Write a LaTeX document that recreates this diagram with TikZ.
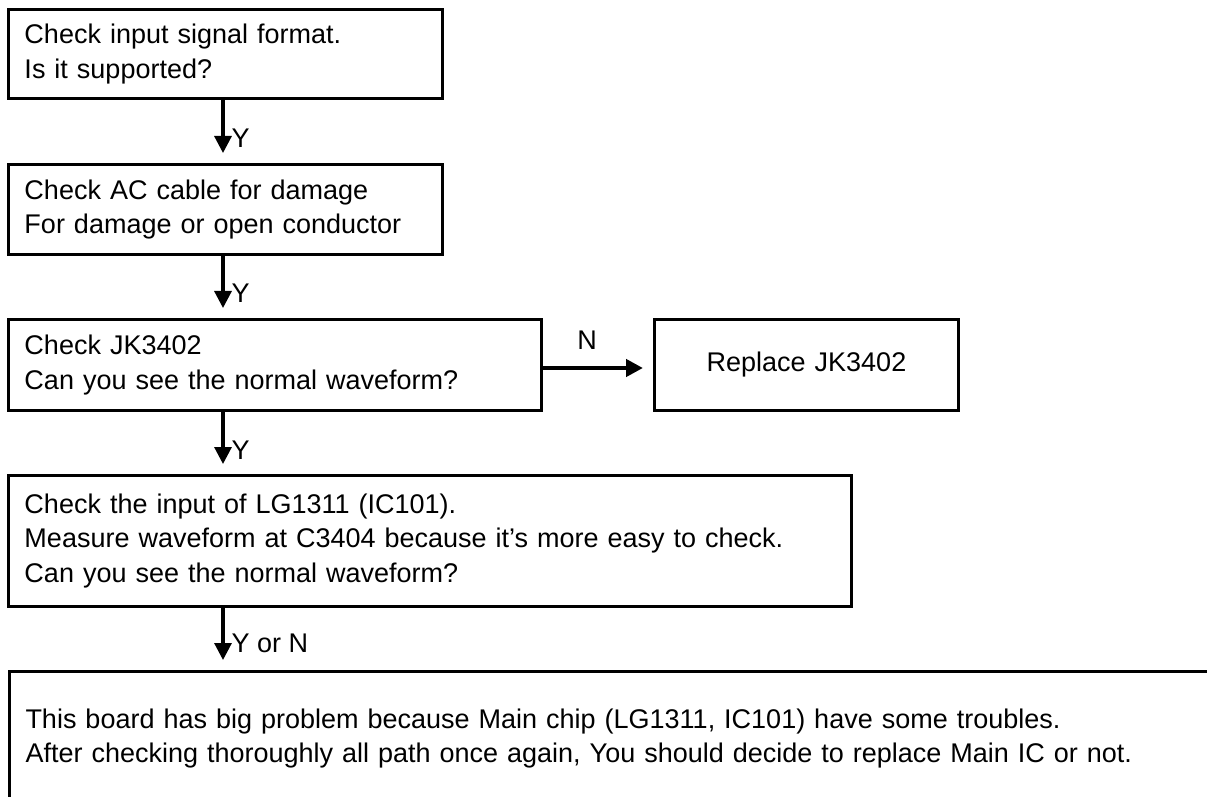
\documentclass[tikz,border=0pt]{standalone}
\usepackage{fontspec}
\setmainfont{Liberation Sans}
\usetikzlibrary{arrows.meta}

\begin{document}
\begin{tikzpicture}[x=0.5pt,y=-0.5pt,
    box/.style={draw,line width=1.5pt,anchor=north west,align=left,
        inner xsep=8pt,inner ysep=0pt,font=\fontsize{13.5}{17.25}\selectfont},
    flow/.style={-{Triangle[length=8.5pt,width=8.5pt]},line width=1.6pt,shorten >=5pt},
    lbl/.style={font=\fontsize{13.5}{16}\selectfont,inner sep=1pt}
]
\useasboundingbox (0,0) rectangle (1207,797);
\clip (0,0) rectangle (1207,797);
\coordinate (spine) at (223,0);
\node[box,text width=201pt,minimum height=44.5pt] (fmt) at (7,8)
    {Check input signal format.\\Is it supported?};
\node[box,text width=201pt,minimum height=45pt] (cable) at (7,163)
    {Check AC cable for damage\\For damage or open conductor};
\node[box,text width=250.5pt,minimum height=45.5pt] (jk) at (7,318)
    {Check JK3402\\Can you see the normal waveform?};
\node[box,align=center,text width=136pt,minimum height=45.5pt] (repl) at (653,318)
    {Replace JK3402};
\node[box,text width=405.5pt,minimum height=65.5pt] (lgin) at (7,474)
    {Check the input of LG1311 (IC101).\\
     Measure waveform at C3404 because it’s more easy to check.\\
     Can you see the normal waveform?};
\node[box,text width=609pt,minimum height=67pt] (mainic) at (8,670)
    {This board has big problem because Main chip (LG1311, IC101) have some troubles.\\
     After checking thoroughly all path once again, You should decide to replace Main IC or not.};
\draw[flow] (fmt.south -| spine) -- (cable.north -| spine)
    node[lbl,right,pos=0.6,xshift=2.5pt] {Y};
\draw[flow] (cable.south -| spine) -- (jk.north -| spine)
    node[lbl,right,pos=0.6,xshift=2.5pt] {Y};
\draw[flow] (jk.south -| spine) -- (lgin.north -| spine)
    node[lbl,right,pos=0.62,xshift=2.5pt] {Y};
\draw[flow] (lgin.south -| spine) -- (mainic.north -| spine)
    node[lbl,right,pos=0.57,xshift=2.5pt] {Y or N};
\draw[flow,line width=2.2pt] ([yshift=-1.5pt]jk.east) -- ([yshift=-1.5pt]repl.west)
    node[lbl,above,pos=0.4,yshift=7pt] {N};
\end{tikzpicture}
\end{document}
